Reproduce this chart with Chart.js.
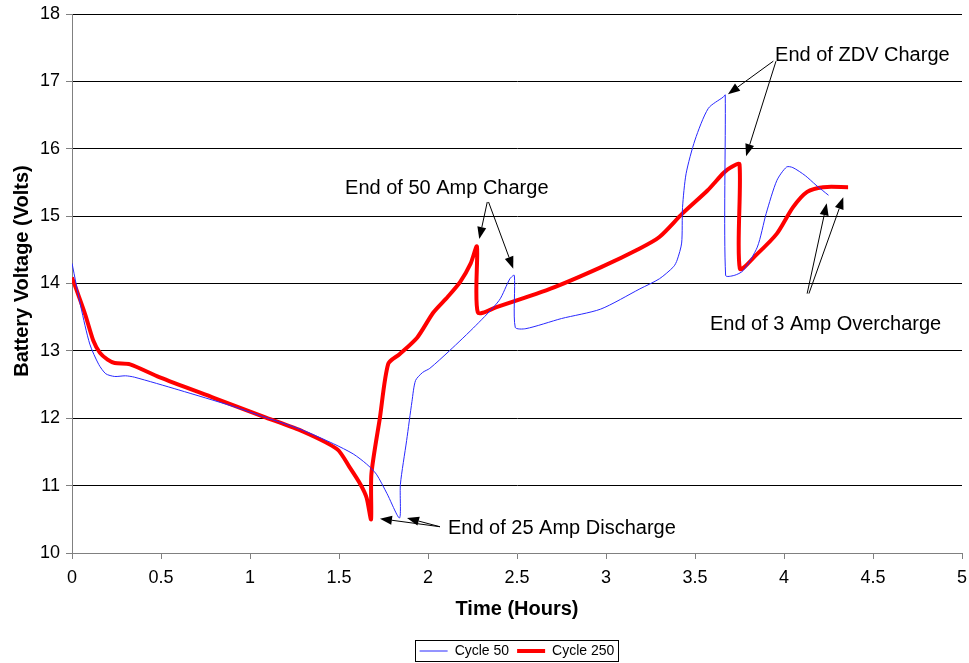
<!DOCTYPE html>
<html>
<head>
<meta charset="utf-8">
<script src="https://cdn.jsdelivr.net/npm/chart.js@4/dist/chart.umd.min.js"></script>
<style>
html, body { margin:0; padding:0; background:#fff; }
</style>
</head>
<body>
<canvas id="myChart" width="969" height="663"></canvas>
<script>
//==========================================DATA===================================//
var seriesNames = ["Cycle 50", "Cycle 250"];

var cycle50Hours = [0, 0.05, 0.10, 0.15, 0.19, 0.24, 0.30, 0.35, 0.6, 0.9, 1.09, 1.28, 1.47, 1.58, 1.655, 1.71, 1.77, 1.84,
    1.845, 1.88, 1.91, 1.93, 1.97, 2.01, 2.12, 2.27, 2.40, 2.46, 2.485, 2.49, 2.55, 2.75, 2.97, 3.19, 3.30, 3.38, 3.40,
    3.425, 3.43, 3.45, 3.50, 3.575, 3.66, 3.67, 3.672, 3.72, 3.77, 3.85, 3.90, 3.96, 4.015, 4.05, 4.12, 4.18, 4.25];
var cycle50Volts = [14.30, 13.65, 13.10, 12.80, 12.66, 12.62, 12.63, 12.61, 12.42, 12.18, 12.01, 11.84, 11.62, 11.47, 11.32, 11.17, 10.88, 10.52,
    11.02, 11.67, 12.25, 12.56, 12.68, 12.74, 13.00, 13.38, 13.75, 14.07, 14.12, 13.35, 13.33, 13.48, 13.62, 13.92, 14.07, 14.25, 14.35,
    14.60, 15.13, 15.63, 16.13, 16.60, 16.77, 16.80, 14.12, 14.12, 14.19, 14.54, 15.04, 15.53, 15.73, 15.72, 15.60, 15.46, 15.31];

var cycle250Hours = [0, 0.073, 0.12, 0.157, 0.20, 0.24, 0.326, 0.49, 0.8, 1.09, 1.3, 1.49, 1.56, 1.62, 1.655, 1.68,
    1.682, 1.73, 1.777, 1.84, 1.94, 2.03, 2.11, 2.18, 2.24, 2.275, 2.28, 2.385, 2.685, 2.97, 3.19, 3.30, 3.43, 3.57, 3.66, 3.70, 3.75,
    3.752, 3.85, 3.96, 4.05, 4.13, 4.22, 4.36];
var cycle250Volts = [14.09, 13.55, 13.15, 12.97, 12.87, 12.82, 12.80, 12.61, 12.30, 12.01, 11.80, 11.54, 11.27, 11.02, 10.82, 10.50,
    11.17, 12.01, 12.81, 12.95, 13.20, 13.57, 13.80, 14.02, 14.30, 14.55, 13.57, 13.65, 13.92, 14.24, 14.52, 14.69, 15.04, 15.38, 15.64, 15.72, 15.77,
    14.22, 14.44, 14.74, 15.13, 15.36, 15.43, 15.43];

var xTickLabels = ["0", "0.5", "1", "1.5", "2", "2.5", "3", "3.5", "4", "4.5", "5"];
var yTickLabels = ["10", "11", "12", "13", "14", "15", "16", "17", "18"];
var yTitle = "Battery Voltage (Volts)";

// text + arrows (start x, start y, tip x, tip y) in hours / volts
var notes = [
    {text: "End of ZDV Charge", x: 3.95, y: 17.39, arrows: [[3.94, 17.30, 3.685, 16.81], [3.955, 17.30, 3.787, 15.89]]},
    {text: "End of 50 Amp Charge", x: 1.534, y: 15.41, arrows: [[2.333, 15.21, 2.288, 14.66], [2.34, 15.21, 2.479, 14.22]]},
    {text: "End of 3 Amp Overcharge", x: 3.584, y: 13.39, arrows: [[4.13, 13.85, 4.24, 15.19], [4.14, 13.85, 4.333, 15.28]]},
    {text: "End of 25 Amp Discharge", x: 2.112, y: 10.37, arrows: [[2.067, 10.39, 1.73, 10.51], [2.067, 10.39, 1.882, 10.52]]}
];

function toPoints(xs, ys){
    var pts = [];
    for(var i = 0; i < xs.length; i++){
        pts.push({x: xs[i], y: ys[i]});
    }
    return pts;
}

//======================================PLUGINS==================================//
var notesPlugin = {
    id: "notes",
    afterDatasetsDraw: function(chart){
        var ctx = chart.ctx;
        var xs = chart.scales.x;
        var ys = chart.scales.y;
        ctx.save();
        ctx.fillStyle = "#000";
        ctx.strokeStyle = "#000";
        ctx.lineWidth = 1;
        ctx.font = "20px 'Liberation Sans', Arial, sans-serif";
        ctx.textAlign = "left";
        ctx.textBaseline = "middle";
        notes.forEach(function(n){
            ctx.fillText(n.text, xs.getPixelForValue(n.x), ys.getPixelForValue(n.y));
            n.arrows.forEach(function(a){
                var x1 = xs.getPixelForValue(a[0]), y1 = ys.getPixelForValue(a[1]);
                var x2 = xs.getPixelForValue(a[2]), y2 = ys.getPixelForValue(a[3]);
                var ang = Math.atan2(y2 - y1, x2 - x1);
                var len = 12, half = 4.5;
                var bx = x2 - len * Math.cos(ang), by = y2 - len * Math.sin(ang);
                ctx.beginPath();
                ctx.moveTo(x1, y1);
                ctx.lineTo(bx, by);
                ctx.stroke();
                ctx.beginPath();
                ctx.moveTo(x2, y2);
                ctx.lineTo(bx + half * Math.sin(ang), by - half * Math.cos(ang));
                ctx.lineTo(bx - half * Math.sin(ang), by + half * Math.cos(ang));
                ctx.closePath();
                ctx.fill();
            });
        });
        // y axis title, sits a little above the plot middle like the original
        ctx.font = "bold 20px 'Liberation Sans', Arial, sans-serif";
        ctx.textAlign = "center";
        ctx.translate(22, 271);
        ctx.rotate(-Math.PI / 2);
        ctx.fillText(yTitle, 0, 0);
        ctx.restore();
    }
};

var legendBoxPlugin = {
    id: "legendBox",
    afterLayout: function(chart){
        var lg = chart.legend;
        var shift = (chart.chartArea.left + chart.chartArea.right) / 2 - (lg.left + lg.right) / 2;
        lg.left += shift;
        lg.right += shift;
        lg.top += 11;
        lg.bottom += 11;
    },
    afterDraw: function(chart){
        var boxes = chart.legend.legendHitBoxes;
        if(!boxes || !boxes.length) return;
        var l = Infinity, r = -Infinity, t = Infinity, b = -Infinity;
        boxes.forEach(function(h){
            l = Math.min(l, h.left); r = Math.max(r, h.left + h.width);
            t = Math.min(t, h.top); b = Math.max(b, h.top + h.height);
        });
        var ctx = chart.ctx;
        ctx.save();
        ctx.strokeStyle = "#000";
        ctx.lineWidth = 1;
        ctx.strokeRect(Math.round(l - 5) + 0.5, Math.round(t - 4) + 0.5, Math.round(r - l + 8), Math.round(b - t + 7));
        ctx.restore();
    }
};

//======================================GRAPH STUFF==================================//
Chart.defaults.font.family = "'Liberation Sans', Arial, sans-serif";
Chart.defaults.color = "#000";

new Chart("myChart", {
    type: "line",
    data: {
        datasets: [{
            label: seriesNames[0],
            data: toPoints(cycle50Hours, cycle50Volts),
            borderColor: "rgb(40,40,255)",
            backgroundColor: "rgb(40,40,255)",
            borderWidth: 1,
            pointRadius: 0,
            tension: 0.25,
            fill: false
        },{
            label: seriesNames[1],
            data: toPoints(cycle250Hours, cycle250Volts),
            borderColor: "rgb(255,0,0)",
            backgroundColor: "rgb(255,0,0)",
            borderWidth: 4,
            pointRadius: 0,
            tension: 0.25,
            fill: false,
            borderJoinStyle: "round"
        }]
    },
    options: {
        responsive: false,
        animation: false,
        layout: {padding: {left: 0, right: 0, top: 0, bottom: 6}},
        plugins: {
            tooltip: {enabled: false},
            legend: {
                position: "bottom",
                labels: {
                    usePointStyle: true,
                    pointStyle: "line",
                    pointStyleWidth: 28,
                    font: {size: 14},
                    padding: 8,
                    color: "#000"
                }
            }
        },
        scales: {
            x: {
                type: "linear",
                min: 0,
                max: 5,
                ticks: {
                    stepSize: 0.5,
                    autoSkip: false,
                    maxRotation: 0,
                    padding: 8,
                    font: {size: 18},
                    color: "#000",
                    callback: function(v, i){ return xTickLabels[i]; }
                },
                grid: {drawOnChartArea: false, tickLength: 6, tickColor: "#808080"},
                border: {color: "#808080"},
                title: {display: true, text: "Time (Hours)", font: {size: 20, weight: "bold"}, padding: {top: 4, bottom: 4}},
                afterFit: function(s){ s.height = 72; s.paddingRight = 7; }
            },
            y: {
                min: 10,
                max: 18,
                ticks: {
                    stepSize: 1,
                    padding: 6,
                    font: {size: 18},
                    color: "#000",
                    callback: function(v, i){ return yTickLabels[i]; }
                },
                grid: {
                    color: function(c){ return c.tick && c.tick.value === 10 ? "rgba(0,0,0,0)" : "#000"; },
                    tickLength: 6,
                    tickColor: "#808080"
                },
                border: {color: "#808080"},
                afterFit: function(s){ s.width = 72; s.paddingTop = 14; }
            }
        }
    },
    plugins: [notesPlugin, legendBoxPlugin]
});
</script>
</body>
</html>
